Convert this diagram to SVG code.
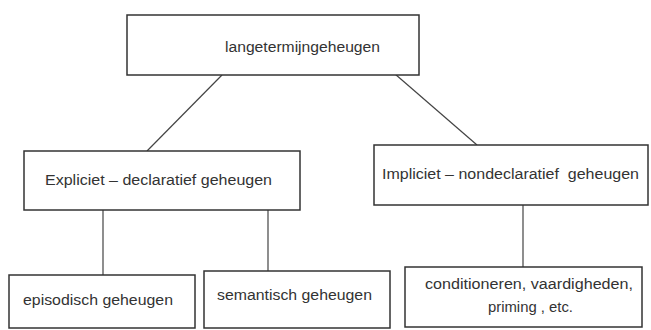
<svg xmlns="http://www.w3.org/2000/svg" width="651" height="330" viewBox="0 0 651 330">
<style>
.box{fill:#fff;stroke:#333;stroke-width:1.5}
.lbl{font-family:"Liberation Sans",Arial,sans-serif;font-size:15.5px;fill:#333}
.con{stroke:#444;stroke-width:1.2;fill:none}
</style>
<rect width="651" height="330" fill="#fff"/>
<g id="connectors">
<line class="con" x1="222" y1="75" x2="147" y2="151"/>
<line class="con" x1="395" y1="74" x2="477" y2="145"/>
<line class="con" x1="103" y1="210" x2="103" y2="275"/>
<line class="con" x1="268" y1="209" x2="268" y2="271"/>
<line class="con" x1="523" y1="205" x2="523" y2="267"/>
</g>
<g id="n-lang">
<rect class="box" x="127" y="15" width="292" height="60"/>
<text class="lbl" x="225" y="52" textLength="155" lengthAdjust="spacingAndGlyphs">langetermijngeheugen</text>
</g>
<g id="n-expliciet">
<rect class="box" x="24" y="151" width="276" height="59"/>
<text class="lbl" x="45" y="185" textLength="227" lengthAdjust="spacingAndGlyphs">Expliciet – declaratief geheugen</text>
</g>
<g id="n-impliciet">
<rect class="box" x="374" y="145" width="274" height="60"/>
<text class="lbl" x="382" y="179" xml:space="preserve" textLength="257" lengthAdjust="spacingAndGlyphs">Impliciet – nondeclaratief  geheugen</text>
</g>
<g id="n-episodisch">
<rect class="box" x="9" y="275" width="186" height="53"/>
<text class="lbl" x="23" y="305" textLength="150" lengthAdjust="spacingAndGlyphs">episodisch geheugen</text>
</g>
<g id="n-semantisch">
<rect class="box" x="204" y="271" width="186" height="57"/>
<text class="lbl" x="217" y="300" textLength="155" lengthAdjust="spacingAndGlyphs">semantisch geheugen</text>
</g>
<g id="n-cond">
<rect class="box" x="405" y="267" width="237" height="60"/>
<text class="lbl" x="425" y="289" textLength="208" lengthAdjust="spacingAndGlyphs">conditioneren, vaardigheden,</text>
<text class="lbl" x="488" y="312" textLength="85" lengthAdjust="spacingAndGlyphs">priming , etc.</text>
</g>
</svg>
